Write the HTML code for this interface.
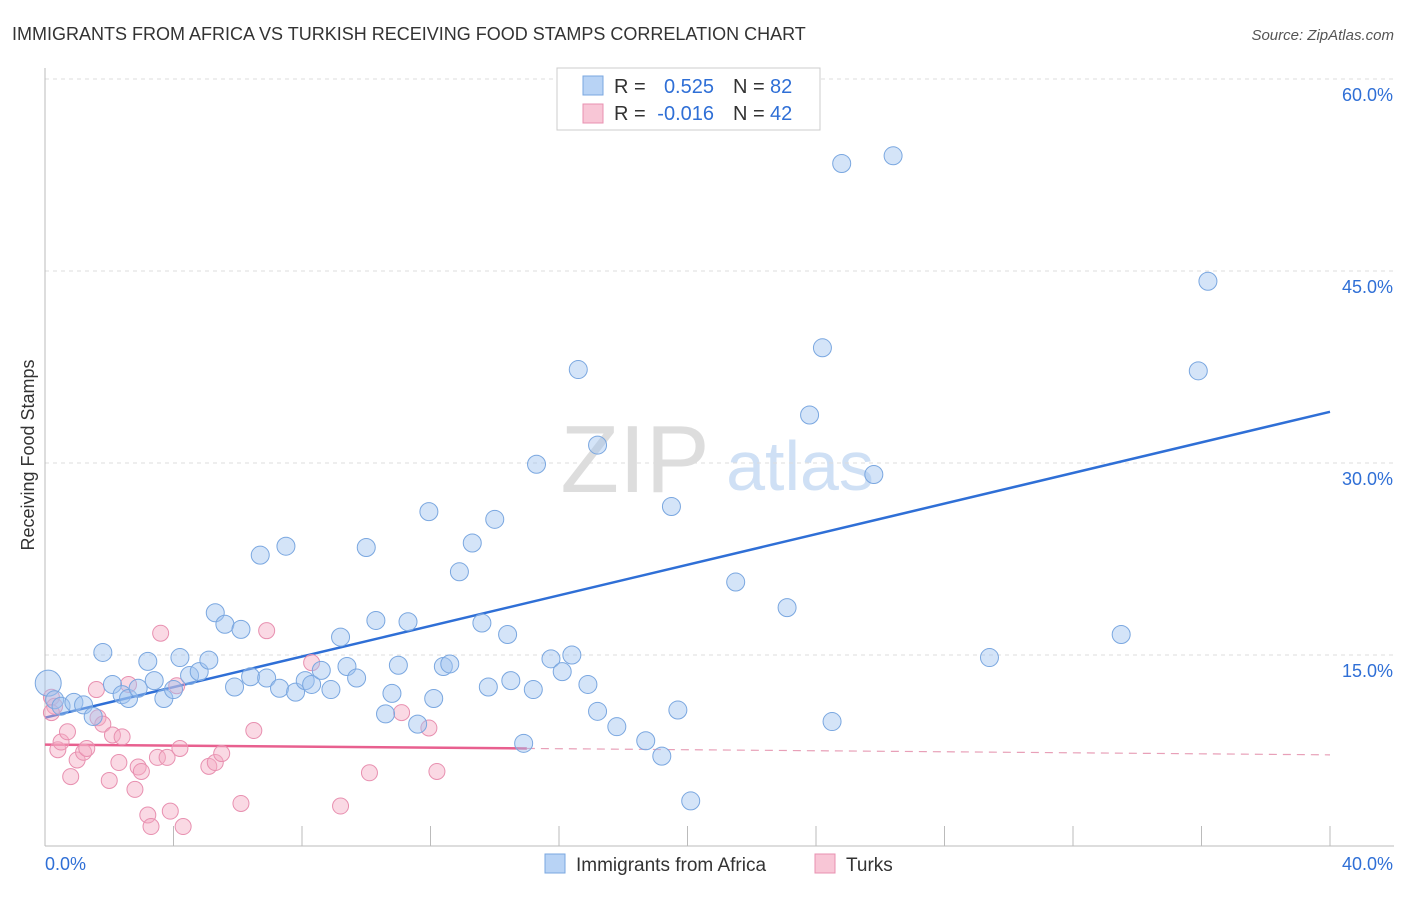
<!DOCTYPE html>
<html><head><meta charset="utf-8"><style>
body{margin:0;background:#fff;font-family:"Liberation Sans",sans-serif}
svg text{font-family:"Liberation Sans",sans-serif}
</style></head><body>
<svg id="chart" width="1406" height="892">
<text x="12" y="40" font-size="18" fill="#333">IMMIGRANTS FROM AFRICA VS TURKISH RECEIVING FOOD STAMPS CORRELATION CHART</text>
<text x="1394" y="40" font-size="15" fill="#555" font-style="italic" text-anchor="end">Source: ZipAtlas.com</text>
<text x="34" y="455" font-size="18" fill="#333" text-anchor="middle" transform="rotate(-90 34 455)">Receiving Food Stamps</text>
<g><text x="635" y="492" font-size="96" fill="#ddd" font-family="Liberation Serif" text-anchor="middle">ZIP</text><text x="800" y="490" font-size="70" fill="#cfe0f5" text-anchor="middle">atlas</text></g>
<g id="grid"></g><g id="axes"></g><g id="trend"></g><g id="pts"></g>
<g>
<rect x="557" y="68" width="263" height="62" fill="#fff" stroke="#ccc"/>
<rect x="583" y="76" width="20" height="19" fill="#b8d3f5" stroke="#7aa7e0"/>
<rect x="583" y="104" width="20" height="19" fill="#f8c6d6" stroke="#e890b0"/>
<text x="614" y="93" font-size="20" fill="#333">R =</text>
<text x="714" y="93" font-size="20" fill="#2f6fd6" text-anchor="end">0.525</text>
<text x="733" y="93" font-size="20" fill="#333">N =</text>
<text x="770" y="93" font-size="20" fill="#2f6fd6">82</text>
<text x="614" y="120" font-size="20" fill="#333">R =</text>
<text x="714" y="120" font-size="20" fill="#2f6fd6" text-anchor="end">-0.016</text>
<text x="733" y="120" font-size="20" fill="#333">N =</text>
<text x="770" y="120" font-size="20" fill="#2f6fd6">42</text>
</g>
<g>
<rect x="545" y="854" width="20" height="19" fill="#b8d3f5" stroke="#7aa7e0"/>
<text x="576" y="871" font-size="19" fill="#333">Immigrants from Africa</text>
<rect x="815" y="854" width="20" height="19" fill="#f8c6d6" stroke="#e890b0"/>
<text x="846" y="871" font-size="19" fill="#333">Turks</text>
</g>
</svg>
<script>
const yTicks=[15,30,45,60];
const yTickLabels=["15.0%","30.0%","45.0%","60.0%"];
const xEndLabels=["0.0%","40.0%"];
const blueX=[0.1,0.3,0.5,0.9,1.2,1.5,1.8,2.1,2.4,2.6,2.9,3.2,3.4,3.7,4.0,4.2,4.5,4.8,5.1,5.3,5.6,5.9,6.1,6.4,6.7,6.9,7.3,7.5,7.8,8.1,8.3,8.6,8.9,9.2,9.4,9.7,10.0,10.3,10.6,10.8,11.0,11.3,11.6,11.95,12.1,12.4,12.6,12.9,13.3,13.6,13.8,14.0,14.4,14.5,14.9,15.2,15.3,15.75,16.1,16.4,16.6,16.9,17.2,17.2,17.8,18.7,19.2,19.5,19.7,20.1,21.5,23.1,23.8,24.2,24.5,24.8,25.8,26.4,29.4,33.5,35.9,36.2];
const blueY=[12.8,11.5,11.0,11.3,11.1,10.2,15.2,12.7,11.9,11.6,12.4,14.5,13.0,11.6,12.3,14.8,13.4,13.7,14.6,18.3,17.4,12.5,17.0,13.3,22.8,13.2,12.4,23.5,12.1,13.0,12.7,13.8,12.3,16.4,14.1,13.2,23.4,17.7,10.4,12.0,14.2,17.6,9.6,26.2,11.6,14.1,14.3,21.5,23.75,17.5,12.5,25.6,16.6,13.0,8.1,12.3,29.9,14.7,13.7,15.0,37.3,12.7,31.4,10.6,9.4,8.3,7.1,26.6,10.7,3.6,20.7,18.7,33.75,39.0,9.8,53.4,29.1,54.0,14.8,16.6,37.2,44.2];
const pinkX=[0.2,0.3,0.4,0.5,0.7,0.8,1.0,1.2,1.3,1.6,1.65,1.8,2.0,2.1,2.3,2.4,2.6,2.8,2.9,3.0,3.2,3.3,3.5,3.6,3.8,3.9,4.1,4.2,4.3,5.1,5.3,5.5,6.1,6.5,6.9,8.3,9.2,10.1,11.1,11.95,12.2,0.2];
const pinkY=[11.7,11.0,7.6,8.2,9.0,5.5,6.8,7.4,7.7,12.3,10.1,9.6,5.2,8.75,6.6,8.6,12.7,4.5,6.25,5.9,2.5,1.6,7.0,16.7,7.0,2.8,12.6,7.7,1.6,6.3,6.6,7.3,3.4,9.1,16.9,14.4,3.2,5.8,10.5,9.3,5.9,10.5];
const blueTrend=[10.1,34.0];   // y at x=0, x=40
const pinkTrend=[8.0,7.2];
const pinkSolidEnd=15;
const NS="http://www.w3.org/2000/svg";
const X=v=>45+v*32.125, Y=v=>847-v*12.8;
function mk(tag,attrs,parent){const e=document.createElementNS(NS,tag);for(const k in attrs)e.setAttribute(k,attrs[k]);document.getElementById(parent).appendChild(e);return e;}
yTicks.forEach((t,i)=>{
 const l=mk('line',{x1:45,x2:1394,y1:Y(t),y2:Y(t),stroke:'#ddd','stroke-dasharray':'4,4'},'grid');
 
 
 const tx=mk('text',{x:1393,y:Y(t)+22,'font-size':18,fill:'#2f6fd6','text-anchor':'end'},'grid');tx.textContent=yTickLabels[i];
 
 
});
mk('line',{x1:45,x2:45,y1:68,y2:846,stroke:'#bbb'},'axes');
mk('line',{x1:45,x2:1394,y1:846,y2:846,stroke:'#bbb'},'axes');
for(let i=0;i<=10;i++){const t=mk('line',{x1:X(i*4),x2:X(i*4),y1:826,y2:846,stroke:'#bbb'},'axes');
 
 }
const a=mk('text',{x:45,y:870,'font-size':18,fill:'#2f6fd6'},'axes');a.textContent=xEndLabels[0];


const b=mk('text',{x:1393,y:870,'font-size':18,fill:'#2f6fd6','text-anchor':'end'},'axes');b.textContent=xEndLabels[1];


pinkX.forEach((x,i)=>{const c=mk('circle',{cx:X(x),cy:Y(pinkY[i]),r:8,fill:'rgba(245,170,195,0.45)',stroke:'#e890b0','stroke-width':1},'pts');
 
 });
blueX.forEach((x,i)=>{const c=mk('circle',{cx:X(x),cy:Y(blueY[i]),r:i==0?13:9,fill:'rgba(160,196,240,0.45)',stroke:'#7aa7e0','stroke-width':1},'pts');
 
 });
const bl=mk('line',{x1:X(0),y1:Y(blueTrend[0]),x2:X(40),y2:Y(blueTrend[1]),stroke:'#2f6fd6','stroke-width':2.5},'trend');


const pm=pinkTrend[0]+(pinkTrend[1]-pinkTrend[0])*pinkSolidEnd/40;
const pl=mk('line',{x1:X(0),y1:Y(pinkTrend[0]),x2:X(pinkSolidEnd),y2:Y(pm),stroke:'#e8608f','stroke-width':2.5},'trend');


const pd=mk('line',{x1:X(pinkSolidEnd),y1:Y(pm),x2:X(40),y2:Y(pinkTrend[1]),stroke:'#e8a0b8','stroke-width':1.2,'stroke-dasharray':'8,6'},'trend');


</script>
</body></html>
